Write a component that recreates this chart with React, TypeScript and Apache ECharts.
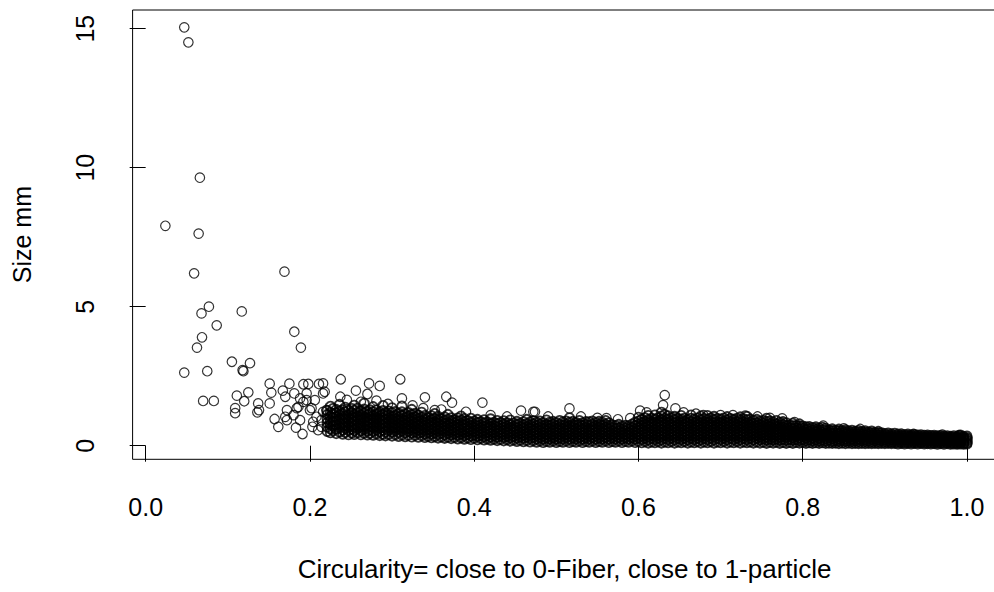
import React, { useEffect, useRef } from "react";
import * as echarts from "echarts";

const xTicks = [0, 0.2, 0.4, 0.6, 0.8, 1.0];
const yTicks = [0, 5, 10, 15];
const xTitle = "Circularity= close to 0-Fiber, close to 1-particle";
const yTitle = "Size mm";

// isolated points: [circularity, size]
const sparsePoints: [number, number][] = [
  [0.047, 15.05], [0.052, 14.51], [0.066, 9.64], [0.024, 7.91], [0.0645, 7.63], [0.059, 6.2], [0.169, 6.26],
  [0.077, 5.0], [0.068, 4.76], [0.117, 4.83], [0.0865, 4.33], [0.181, 4.1], [0.0686, 3.9], [0.0625, 3.53],
  [0.189, 3.53], [0.105, 3.02], [0.127, 2.97], [0.118, 2.72], [0.119, 2.68], [0.047, 2.63], [0.075, 2.68],
  [0.07, 1.61], [0.083, 1.61], [0.111, 1.8], [0.125, 1.92], [0.12, 1.6], [0.109, 1.35], [0.109, 1.17],
  [0.137, 1.52], [0.138, 1.28], [0.136, 1.2], [0.151, 2.23], [0.153, 1.91], [0.151, 1.52], [0.167, 1.98],
  [0.175, 2.23], [0.192, 2.21], [0.198, 2.22], [0.211, 2.22], [0.17, 1.76], [0.181, 1.88], [0.188, 1.7],
  [0.196, 1.64], [0.216, 1.88], [0.172, 1.28], [0.184, 1.35], [0.2, 1.28], [0.216, 1.22], [0.157, 0.96],
  [0.1615, 0.68], [0.183, 0.65], [0.191, 0.42], [0.204, 0.86], [0.214, 0.68], [0.17, 1.04], [0.188, 0.92],
  [0.18, 1.1], [0.186, 1.4], [0.192, 1.58], [0.202, 1.35], [0.208, 1.04], [0.214, 0.92], [0.22, 1.28],
  [0.206, 1.64], [0.218, 1.94], [0.196, 1.88], [0.172, 0.92], [0.203, 0.68], [0.21, 0.56],
  [0.2375, 2.39], [0.31, 2.39], [0.272, 2.24], [0.285, 2.15], [0.256, 1.98], [0.27, 1.86], [0.312, 1.7],
  [0.34, 1.74], [0.366, 1.76], [0.373, 1.55], [0.352, 1.28], [0.237, 1.76], [0.216, 2.24], [0.457, 1.26],
  [0.472, 1.22], [0.41, 1.55], [0.474, 1.22], [0.516, 1.34], [0.632, 1.82], [0.63, 1.46], [0.645, 1.34],
  [0.602, 1.26], [0.59, 0.99], [0.561, 0.99], [0.679, 1.1],
  [0.245, 1.65], [0.262, 1.58], [0.281, 1.62], [0.295, 1.5], [0.325, 1.45], [0.338, 1.35], [0.36, 1.3],
  [0.39, 1.22], [0.42, 1.1], [0.44, 1.05], [0.49, 1.05], [0.53, 1.05], [0.55, 1.0], [0.575, 0.95],
  [0.61, 1.2], [0.655, 1.2], [0.67, 1.15], [0.7, 1.1], [0.715, 1.1], [0.73, 1.08], [0.745, 1.05],
  [0.76, 1.0], [0.775, 0.98], [0.79, 0.85], [0.825, 0.72], [0.85, 0.62], [0.87, 0.6], [0.935, 0.42],
  [0.97, 0.4], [0.99, 0.38], [0.995, 0.3],
];

// dense band read column by column: [circularity, sizes at that circularity]
const denseColumns: [number, number[]][] = [
  [0.221, [0.52, 0.68, 0.83, 0.97, 1.12, 1.26]],
  [0.225, [0.47, 0.61, 0.76, 0.9, 1.05, 1.19, 1.41]],
  [0.228, [0.55, 0.71, 0.86, 1.0, 1.15, 1.33]],
  [0.232, [0.44, 0.6, 0.74, 0.88, 1.03, 1.18, 1.3]],
  [0.236, [0.5, 0.65, 0.8, 0.95, 1.09, 1.24, 1.48]],
  [0.24, [0.42, 0.57, 0.71, 0.85, 0.99, 1.14, 1.29]],
  [0.243, [0.48, 0.63, 0.77, 0.92, 1.06, 1.21, 1.38]],
  [0.247, [0.4, 0.55, 0.69, 0.83, 0.97, 1.12, 1.27]],
  [0.251, [0.46, 0.6, 0.75, 0.9, 1.04, 1.18, 1.33]],
  [0.254, [0.41, 0.55, 0.7, 0.84, 0.98, 1.13, 1.27, 1.45]],
  [0.258, [0.47, 0.62, 0.76, 0.91, 1.05, 1.2, 1.34]],
  [0.262, [0.4, 0.54, 0.68, 0.82, 0.96, 1.11, 1.25]],
  [0.266, [0.45, 0.59, 0.74, 0.89, 1.03, 1.17, 1.31, 1.52]],
  [0.27, [0.39, 0.53, 0.67, 0.81, 0.95, 1.1, 1.24]],
  [0.273, [0.44, 0.58, 0.73, 0.87, 1.01, 1.16, 1.29]],
  [0.277, [0.38, 0.52, 0.66, 0.8, 0.94, 1.08, 1.22, 1.4]],
  [0.281, [0.43, 0.57, 0.71, 0.86, 1.0, 1.14, 1.28]],
  [0.285, [0.37, 0.51, 0.65, 0.79, 0.93, 1.07, 1.21]],
  [0.289, [0.42, 0.56, 0.7, 0.84, 0.98, 1.12, 1.26, 1.44]],
  [0.292, [0.36, 0.5, 0.64, 0.78, 0.92, 1.06, 1.19]],
  [0.296, [0.41, 0.55, 0.69, 0.83, 0.97, 1.11, 1.24]],
  [0.3, [0.35, 0.49, 0.63, 0.77, 0.91, 1.05, 1.18, 1.36]],
  [0.304, [0.4, 0.54, 0.68, 0.82, 0.96, 1.09, 1.22]],
  [0.308, [0.34, 0.48, 0.62, 0.76, 0.9, 1.03, 1.16]],
  [0.312, [0.39, 0.53, 0.67, 0.81, 0.94, 1.08, 1.21, 1.42]],
  [0.316, [0.33, 0.47, 0.61, 0.74, 0.88, 1.01, 1.14]],
  [0.32, [0.38, 0.52, 0.65, 0.79, 0.93, 1.06, 1.19]],
  [0.324, [0.32, 0.46, 0.59, 0.73, 0.87, 1.0, 1.12, 1.3]],
  [0.328, [0.37, 0.5, 0.64, 0.78, 0.91, 1.04, 1.16]],
  [0.332, [0.31, 0.45, 0.58, 0.72, 0.85, 0.98, 1.1]],
  [0.336, [0.36, 0.49, 0.62, 0.76, 0.89, 1.02, 1.2]],
  [0.34, [0.3, 0.43, 0.56, 0.7, 0.83, 0.96, 1.08]],
  [0.344, [0.34, 0.47, 0.61, 0.74, 0.87, 1.0]],
  [0.348, [0.29, 0.42, 0.55, 0.68, 0.81, 0.94, 1.07]],
  [0.352, [0.33, 0.46, 0.59, 0.72, 0.85, 0.98, 1.15]],
  [0.356, [0.28, 0.41, 0.54, 0.67, 0.8, 0.93, 1.05]],
  [0.36, [0.32, 0.45, 0.58, 0.71, 0.84, 0.97]],
  [0.364, [0.27, 0.4, 0.53, 0.66, 0.79, 0.91, 1.03]],
  [0.368, [0.31, 0.44, 0.57, 0.7, 0.82, 0.95, 1.12]],
  [0.372, [0.26, 0.39, 0.52, 0.64, 0.77, 0.89, 1.0]],
  [0.376, [0.3, 0.43, 0.55, 0.68, 0.81, 0.93]],
  [0.38, [0.25, 0.38, 0.5, 0.63, 0.75, 0.88, 0.99]],
  [0.384, [0.29, 0.42, 0.54, 0.67, 0.79, 0.91, 1.06]],
  [0.388, [0.24, 0.37, 0.49, 0.62, 0.74, 0.86, 0.97]],
  [0.392, [0.28, 0.41, 0.53, 0.65, 0.78, 0.9]],
  [0.396, [0.23, 0.35, 0.48, 0.6, 0.72, 0.84, 0.98]],
  [0.4, [0.27, 0.39, 0.51, 0.64, 0.76, 0.88]],
  [0.404, [0.22, 0.34, 0.46, 0.59, 0.71, 0.83, 0.94]],
  [0.408, [0.26, 0.38, 0.5, 0.62, 0.74, 0.86]],
  [0.412, [0.21, 0.33, 0.45, 0.57, 0.69, 0.81, 0.93]],
  [0.416, [0.25, 0.37, 0.49, 0.61, 0.73, 0.85]],
  [0.42, [0.2, 0.32, 0.44, 0.56, 0.68, 0.8, 0.96]],
  [0.424, [0.24, 0.36, 0.48, 0.6, 0.72, 0.84]],
  [0.428, [0.19, 0.31, 0.43, 0.55, 0.67, 0.79, 0.9]],
  [0.432, [0.23, 0.35, 0.47, 0.59, 0.71, 0.83]],
  [0.436, [0.18, 0.3, 0.42, 0.54, 0.66, 0.78, 0.89]],
  [0.44, [0.22, 0.34, 0.46, 0.58, 0.7, 0.82]],
  [0.444, [0.17, 0.29, 0.41, 0.53, 0.65, 0.77, 0.92]],
  [0.448, [0.21, 0.33, 0.45, 0.57, 0.69, 0.81]],
  [0.452, [0.16, 0.28, 0.4, 0.52, 0.64, 0.76, 0.87]],
  [0.456, [0.2, 0.32, 0.44, 0.56, 0.68, 0.8]],
  [0.46, [0.15, 0.27, 0.39, 0.51, 0.63, 0.75, 0.86]],
  [0.464, [0.19, 0.31, 0.43, 0.55, 0.67, 0.79, 0.94]],
  [0.468, [0.14, 0.26, 0.38, 0.5, 0.62, 0.74, 0.85]],
  [0.472, [0.18, 0.3, 0.42, 0.54, 0.66, 0.78, 0.9]],
  [0.476, [0.13, 0.25, 0.37, 0.49, 0.61, 0.73, 0.84]],
  [0.48, [0.17, 0.29, 0.41, 0.53, 0.65, 0.77, 0.88]],
  [0.484, [0.12, 0.24, 0.36, 0.48, 0.6, 0.72, 0.83]],
  [0.488, [0.16, 0.28, 0.4, 0.52, 0.64, 0.76, 0.92]],
  [0.492, [0.13, 0.25, 0.37, 0.49, 0.61, 0.73, 0.84]],
  [0.496, [0.17, 0.29, 0.41, 0.53, 0.65, 0.77, 0.87]],
  [0.5, [0.12, 0.24, 0.36, 0.48, 0.6, 0.72, 0.83]],
  [0.504, [0.16, 0.28, 0.4, 0.52, 0.64, 0.76, 0.9]],
  [0.508, [0.13, 0.25, 0.37, 0.49, 0.61, 0.73, 0.85]],
  [0.512, [0.17, 0.29, 0.41, 0.53, 0.65, 0.77, 0.88]],
  [0.516, [0.12, 0.24, 0.36, 0.48, 0.6, 0.72, 0.84, 1.0]],
  [0.52, [0.16, 0.28, 0.4, 0.52, 0.64, 0.76, 0.87]],
  [0.524, [0.13, 0.25, 0.37, 0.49, 0.61, 0.73, 0.83]],
  [0.528, [0.17, 0.29, 0.41, 0.53, 0.65, 0.77, 0.9]],
  [0.532, [0.12, 0.24, 0.36, 0.48, 0.6, 0.72, 0.82]],
  [0.536, [0.16, 0.28, 0.4, 0.52, 0.64, 0.76, 0.86]],
  [0.54, [0.13, 0.25, 0.37, 0.49, 0.61, 0.73, 0.85]],
  [0.544, [0.17, 0.29, 0.41, 0.53, 0.65, 0.77, 0.88]],
  [0.548, [0.12, 0.24, 0.36, 0.48, 0.6, 0.72, 0.83]],
  [0.552, [0.16, 0.28, 0.4, 0.52, 0.64, 0.76, 0.87]],
  [0.556, [0.13, 0.25, 0.37, 0.49, 0.61, 0.73, 0.84]],
  [0.56, [0.17, 0.29, 0.41, 0.53, 0.65, 0.77, 0.9]],
  [0.564, [0.12, 0.24, 0.36, 0.48, 0.6, 0.72, 0.82]],
  [0.568, [0.16, 0.28, 0.4, 0.52, 0.64, 0.75]],
  [0.572, [0.13, 0.25, 0.37, 0.49, 0.61, 0.72]],
  [0.576, [0.17, 0.29, 0.41, 0.53, 0.64, 0.76]],
  [0.58, [0.12, 0.24, 0.36, 0.48, 0.59, 0.7]],
  [0.584, [0.16, 0.28, 0.4, 0.52, 0.63, 0.73]],
  [0.588, [0.13, 0.25, 0.37, 0.48, 0.6, 0.71]],
  [0.592, [0.17, 0.29, 0.41, 0.53, 0.65, 0.77]],
  [0.596, [0.12, 0.24, 0.36, 0.48, 0.6, 0.72, 0.84]],
  [0.6, [0.16, 0.28, 0.4, 0.52, 0.64, 0.76, 0.88, 1.02]],
  [0.604, [0.11, 0.23, 0.35, 0.47, 0.59, 0.71, 0.83, 0.95]],
  [0.608, [0.15, 0.27, 0.39, 0.51, 0.63, 0.75, 0.87, 1.0]],
  [0.612, [0.1, 0.22, 0.34, 0.46, 0.58, 0.7, 0.82, 0.94, 1.08]],
  [0.616, [0.14, 0.26, 0.38, 0.5, 0.62, 0.74, 0.86, 0.98]],
  [0.62, [0.11, 0.23, 0.35, 0.47, 0.59, 0.71, 0.83, 0.95, 1.1]],
  [0.624, [0.15, 0.27, 0.39, 0.51, 0.63, 0.75, 0.87, 1.0]],
  [0.628, [0.1, 0.22, 0.34, 0.46, 0.58, 0.7, 0.82, 0.94, 1.06, 1.2]],
  [0.632, [0.14, 0.26, 0.38, 0.5, 0.62, 0.74, 0.86, 0.98, 1.12]],
  [0.636, [0.11, 0.23, 0.35, 0.47, 0.59, 0.71, 0.83, 0.95, 1.07]],
  [0.64, [0.15, 0.27, 0.39, 0.51, 0.63, 0.75, 0.87, 0.99]],
  [0.644, [0.1, 0.22, 0.34, 0.46, 0.58, 0.7, 0.82, 0.94, 1.05]],
  [0.648, [0.14, 0.26, 0.38, 0.5, 0.62, 0.74, 0.86, 0.97]],
  [0.652, [0.11, 0.23, 0.35, 0.47, 0.59, 0.71, 0.83, 0.95, 1.08]],
  [0.656, [0.15, 0.27, 0.39, 0.51, 0.63, 0.75, 0.87, 0.98]],
  [0.66, [0.1, 0.22, 0.34, 0.46, 0.58, 0.7, 0.82, 0.94]],
  [0.664, [0.14, 0.26, 0.38, 0.5, 0.62, 0.74, 0.86, 0.98, 1.1]],
  [0.668, [0.11, 0.23, 0.35, 0.47, 0.59, 0.71, 0.83, 0.95]],
  [0.672, [0.15, 0.27, 0.39, 0.51, 0.63, 0.75, 0.87, 0.99]],
  [0.676, [0.1, 0.22, 0.34, 0.46, 0.58, 0.7, 0.82, 0.94, 1.06]],
  [0.68, [0.14, 0.26, 0.38, 0.5, 0.62, 0.74, 0.86, 0.97]],
  [0.684, [0.11, 0.23, 0.35, 0.47, 0.59, 0.71, 0.83, 0.95, 1.08]],
  [0.688, [0.15, 0.27, 0.39, 0.51, 0.63, 0.75, 0.87, 0.99]],
  [0.692, [0.1, 0.22, 0.34, 0.46, 0.58, 0.7, 0.82, 0.94, 1.05]],
  [0.696, [0.14, 0.26, 0.38, 0.5, 0.62, 0.74, 0.86, 0.97]],
  [0.7, [0.11, 0.23, 0.35, 0.47, 0.59, 0.71, 0.83, 0.95]],
  [0.704, [0.15, 0.27, 0.39, 0.51, 0.63, 0.75, 0.87, 0.99]],
  [0.708, [0.1, 0.22, 0.34, 0.46, 0.58, 0.7, 0.82, 0.93, 1.04]],
  [0.712, [0.14, 0.26, 0.38, 0.5, 0.62, 0.74, 0.86, 0.97]],
  [0.716, [0.11, 0.23, 0.35, 0.47, 0.59, 0.71, 0.83, 0.94]],
  [0.72, [0.15, 0.27, 0.39, 0.51, 0.63, 0.75, 0.87, 0.98]],
  [0.724, [0.1, 0.22, 0.34, 0.46, 0.58, 0.7, 0.82, 0.93, 1.03]],
  [0.728, [0.14, 0.26, 0.38, 0.5, 0.62, 0.74, 0.85, 0.96]],
  [0.732, [0.11, 0.23, 0.35, 0.47, 0.59, 0.71, 0.82, 0.93, 1.05]],
  [0.736, [0.14, 0.26, 0.38, 0.5, 0.61, 0.73, 0.84, 0.95]],
  [0.74, [0.1, 0.22, 0.34, 0.46, 0.58, 0.69, 0.8, 0.91]],
  [0.744, [0.14, 0.26, 0.38, 0.49, 0.6, 0.71, 0.82, 0.94]],
  [0.748, [0.1, 0.22, 0.33, 0.44, 0.55, 0.66, 0.77, 0.88]],
  [0.752, [0.13, 0.25, 0.36, 0.47, 0.58, 0.69, 0.8, 0.9]],
  [0.756, [0.09, 0.21, 0.32, 0.43, 0.54, 0.65, 0.76, 0.87, 0.98]],
  [0.76, [0.13, 0.24, 0.35, 0.46, 0.57, 0.68, 0.79, 0.88]],
  [0.764, [0.1, 0.21, 0.32, 0.43, 0.54, 0.65, 0.76, 0.85]],
  [0.768, [0.13, 0.24, 0.35, 0.46, 0.57, 0.68, 0.78, 0.9]],
  [0.772, [0.09, 0.2, 0.31, 0.42, 0.53, 0.64, 0.74, 0.84]],
  [0.776, [0.12, 0.23, 0.34, 0.45, 0.56, 0.66, 0.76, 0.86]],
  [0.78, [0.09, 0.2, 0.31, 0.42, 0.52, 0.62, 0.72, 0.82]],
  [0.784, [0.12, 0.23, 0.34, 0.44, 0.54, 0.64, 0.74]],
  [0.788, [0.09, 0.2, 0.3, 0.41, 0.51, 0.61, 0.71, 0.8]],
  [0.792, [0.12, 0.22, 0.33, 0.43, 0.53, 0.63, 0.72]],
  [0.796, [0.1, 0.19, 0.29, 0.4, 0.5, 0.6, 0.7, 0.78]],
  [0.8, [0.12, 0.22, 0.32, 0.42, 0.52, 0.62, 0.7]],
  [0.804, [0.09, 0.18, 0.28, 0.38, 0.48, 0.58, 0.67]],
  [0.808, [0.11, 0.21, 0.31, 0.41, 0.51, 0.6, 0.68]],
  [0.812, [0.09, 0.18, 0.28, 0.38, 0.47, 0.56, 0.65]],
  [0.816, [0.11, 0.21, 0.31, 0.4, 0.5, 0.59, 0.67]],
  [0.82, [0.09, 0.17, 0.27, 0.37, 0.46, 0.55, 0.63]],
  [0.824, [0.11, 0.2, 0.3, 0.39, 0.48, 0.57, 0.66]],
  [0.828, [0.09, 0.17, 0.26, 0.36, 0.45, 0.54, 0.62]],
  [0.832, [0.1, 0.2, 0.29, 0.38, 0.47, 0.56]],
  [0.836, [0.09, 0.16, 0.26, 0.35, 0.44, 0.53, 0.6]],
  [0.84, [0.1, 0.19, 0.28, 0.37, 0.46, 0.55]],
  [0.844, [0.08, 0.16, 0.25, 0.34, 0.43, 0.52, 0.59]],
  [0.848, [0.1, 0.19, 0.28, 0.37, 0.45, 0.53]],
  [0.852, [0.08, 0.16, 0.25, 0.33, 0.42, 0.5, 0.57]],
  [0.856, [0.1, 0.18, 0.27, 0.36, 0.44, 0.52]],
  [0.86, [0.08, 0.15, 0.24, 0.33, 0.41, 0.49, 0.55]],
  [0.864, [0.09, 0.18, 0.27, 0.35, 0.43, 0.51]],
  [0.868, [0.08, 0.15, 0.24, 0.32, 0.4, 0.48, 0.54]],
  [0.872, [0.09, 0.18, 0.26, 0.34, 0.42, 0.5]],
  [0.876, [0.08, 0.15, 0.23, 0.31, 0.39, 0.47, 0.53]],
  [0.88, [0.09, 0.17, 0.26, 0.34, 0.41, 0.49]],
  [0.884, [0.08, 0.14, 0.23, 0.31, 0.38, 0.46, 0.52]],
  [0.888, [0.09, 0.17, 0.25, 0.33, 0.4, 0.47]],
  [0.892, [0.08, 0.14, 0.22, 0.3, 0.38, 0.45, 0.51]],
  [0.896, [0.09, 0.17, 0.25, 0.32, 0.39, 0.46]],
  [0.9, [0.08, 0.14, 0.22, 0.29, 0.36, 0.43]],
  [0.904, [0.09, 0.16, 0.24, 0.31, 0.38, 0.45]],
  [0.908, [0.08, 0.13, 0.21, 0.28, 0.35, 0.42]],
  [0.912, [0.09, 0.16, 0.23, 0.3, 0.37, 0.44]],
  [0.916, [0.07, 0.13, 0.2, 0.27, 0.34, 0.41]],
  [0.92, [0.09, 0.15, 0.22, 0.29, 0.36, 0.42]],
  [0.924, [0.07, 0.12, 0.2, 0.27, 0.34, 0.4]],
  [0.928, [0.09, 0.15, 0.22, 0.29, 0.35, 0.41]],
  [0.932, [0.07, 0.12, 0.19, 0.26, 0.33, 0.39]],
  [0.936, [0.09, 0.15, 0.22, 0.28, 0.34, 0.4]],
  [0.94, [0.07, 0.12, 0.19, 0.25, 0.32, 0.38]],
  [0.944, [0.09, 0.14, 0.21, 0.27, 0.33, 0.39]],
  [0.948, [0.07, 0.11, 0.18, 0.25, 0.31, 0.37]],
  [0.952, [0.08, 0.14, 0.2, 0.27, 0.33, 0.38]],
  [0.956, [0.07, 0.11, 0.18, 0.24, 0.3, 0.36]],
  [0.96, [0.08, 0.14, 0.2, 0.26, 0.32, 0.37]],
  [0.964, [0.06, 0.11, 0.17, 0.24, 0.3, 0.35]],
  [0.968, [0.08, 0.13, 0.2, 0.26, 0.31, 0.36]],
  [0.972, [0.06, 0.11, 0.17, 0.23, 0.29, 0.34]],
  [0.976, [0.08, 0.13, 0.19, 0.25, 0.3, 0.35]],
  [0.98, [0.06, 0.1, 0.16, 0.22, 0.28, 0.33]],
  [0.984, [0.07, 0.12, 0.18, 0.24, 0.3, 0.35]],
  [0.988, [0.06, 0.1, 0.16, 0.22, 0.27, 0.32]],
  [0.992, [0.07, 0.12, 0.18, 0.24, 0.29, 0.34, 0.38]],
  [0.996, [0.06, 0.1, 0.16, 0.22, 0.27, 0.33]],
  [1.0, [0.07, 0.11, 0.17, 0.23, 0.28, 0.34]],
];

const FONT = "'Liberation Sans', Arial, sans-serif";

export default function App() {
  const ref = useRef<HTMLDivElement>(null);
  useEffect(() => {
    if (!ref.current) return;
    const chart = echarts.init(ref.current, null, { renderer: "svg" });
    const denseData: number[][] = denseColumns.flatMap(([x, ys]) => ys.map((y) => [x, y]));
    const ringStyle = (w: number) => ({ color: "rgba(0,0,0,0)", borderColor: "#000", borderWidth: w });
    chart.setOption({
      animation: false,
      backgroundColor: "#ffffff",
      grid: {
        left: 132.6,
        top: 10,
        width: 872,
        height: 449.3,
        show: true,
        borderColor: "#000",
        borderWidth: 1,
        backgroundColor: "transparent",
      },
      xAxis: {
        type: "value",
        min: -0.0159,
        max: 1.0458,
        axisLine: { show: false },
        splitLine: { show: false },
        axisTick: {
          show: true,
          inside: false,
          length: 16,
          customValues: xTicks,
          lineStyle: { color: "#000", width: 1 },
        },
        axisLabel: {
          customValues: xTicks,
          formatter: (v: number) => v.toFixed(1),
          margin: 35,
          fontSize: 25,
          color: "#000",
          fontFamily: FONT,
        },
        name: xTitle,
        nameLocation: "middle",
        nameGap: 97,
        nameTextStyle: { fontSize: 26, color: "#000", fontFamily: FONT, padding: [0, 8, 0, 0] },
      },
      yAxis: {
        type: "value",
        min: -0.489,
        max: 15.673,
        axisLine: { show: false },
        splitLine: { show: false },
        axisTick: {
          show: true,
          inside: false,
          length: 16,
          customValues: yTicks,
          lineStyle: { color: "#000", width: 1 },
        },
        axisLabel: {
          customValues: yTicks,
          rotate: 90,
          margin: 35,
          fontSize: 25,
          color: "#000",
          fontFamily: FONT,
        },
        name: yTitle,
        nameLocation: "middle",
        nameGap: 98,
        nameTextStyle: { fontSize: 25, color: "#000", fontFamily: FONT },
      },
      series: [
        {
          type: "scatter",
          data: sparsePoints,
          symbol: "circle",
          symbolSize: 9.5,
          itemStyle: ringStyle(1.2),
          emphasis: { disabled: true },
          silent: true,
        },
        {
          type: "scatter",
          data: denseData,
          symbol: "circle",
          symbolSize: 9.5,
          itemStyle: ringStyle(1.8),
          emphasis: { disabled: true },
          silent: true,
        },
      ],
    });
    return () => chart.dispose();
  }, []);
  return (
    <div
      style={{
        position: "fixed",
        left: 0,
        top: 0,
        width: 994,
        height: 592,
        overflow: "hidden",
        background: "#fff",
      }}
    >
      <div ref={ref} style={{ width: 1012, height: 592 }} />
    </div>
  );
}
